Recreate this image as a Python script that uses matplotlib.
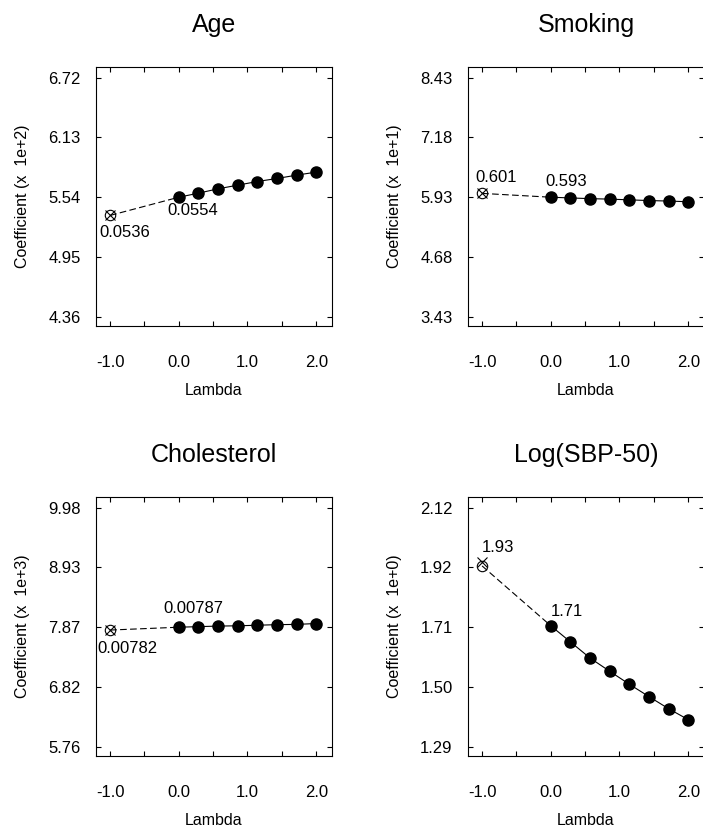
import matplotlib
matplotlib.use("Agg")
import matplotlib.pyplot as plt
from matplotlib.ticker import FixedLocator

plt.rcParams["font.family"] = ["Liberation Sans", "DejaVu Sans"]

# Box-Cox lambda grid for the fitted curves
lambdas = [0.0, 2 / 7, 4 / 7, 6 / 7, 8 / 7, 10 / 7, 12 / 7, 2.0]
lambda_ref = -1.0

titles = ["Age", "Smoking", "Cholesterol", "Log(SBP-50)"]
exponents = [2, 1, 3, 0]

# coefficients along the lambda grid
age_coef = [0.0554, 0.0558, 0.05623, 0.05659, 0.05695, 0.05725, 0.05758, 0.05788]
smoking_coef = [0.593, 0.5915, 0.590, 0.589, 0.5875, 0.586, 0.585, 0.5835]
chol_coef = [0.00787, 0.00788, 0.00789, 0.007895, 0.007905, 0.007915, 0.00792, 0.007935]
sbp_coef = [1.71, 1.654, 1.598, 1.552, 1.507, 1.464, 1.422, 1.384]

# estimates at lambda = -1 (open circle and cross)
circle_coef = [0.0536, 0.601, 0.00782, 1.918]
cross_coef = [0.0536, 0.601, 0.00782, 1.932]

ytick_labels = [
    ["4.36", "4.95", "5.54", "6.13", "6.72"],
    ["3.43", "4.68", "5.93", "7.18", "8.43"],
    ["5.76", "6.82", "7.87", "8.93", "9.98"],
    ["1.29", "1.50", "1.71", "1.92", "2.12"],
]

series = [age_coef, smoking_coef, chol_coef, sbp_coef]

# label offsets in points: (circle label, first point label)
label_offsets = [
    [(-8, -7, "top"), (-8, -4, "top")],
    [(-5, 6, "bottom"), (-4, 6, "bottom")],
    [(-9, -8, "top"), (-11, 8, "bottom")],
    [(0, 5, "bottom"), (0, 5, "bottom")],
]

W, H = 703, 832
fig = plt.figure(figsize=(W / 100, H / 100), dpi=100)

boxes = [(96, 67), (468, 67), (96, 497), (468, 497)]
bw, bh = 236, 259

for i, (left, top) in enumerate(boxes):
    ax = fig.add_axes([left / W, 1 - (top + bh) / H, bw / W, bh / H])
    scale = 10.0 ** exponents[i]
    ys = [v * scale for v in series[i]]
    yc = circle_coef[i] * scale
    yx = cross_coef[i] * scale

    ax.plot([lambda_ref, lambdas[0]], [yc, ys[0]], color="black", lw=0.8,
            dashes=(6, 3))
    ax.plot(lambdas, ys, color="black", lw=0.8, marker="o", ms=8,
            mfc="black", mec="black")
    ax.plot([lambda_ref], [yc], marker="o", ms=7.5, mfc="none", mec="black",
            mew=0.8, ls="none")
    ax.plot([lambda_ref], [yx], marker="x", ms=7.5, mec="black", mew=0.8,
            ls="none")

    (cx, cy, cva), (px, py, pva) = label_offsets[i]
    ax.annotate(f"{cross_coef[i]:.3g}", (lambda_ref, yx), xytext=(cx, cy),
                textcoords="offset points", ha="left", va=cva, fontsize=12)
    ax.annotate(f"{series[i][0]:.3g}", (lambdas[0], ys[0]), xytext=(px, py),
                textcoords="offset points", ha="left", va=pva, fontsize=12)

    labels = ytick_labels[i]
    t0, t4 = float(labels[0]), float(labels[-1])
    ticks = [t0 + k * (t4 - t0) / 4 for k in range(5)]
    span = t4 - t0
    ax.set_ylim(t0 - 0.039 * span, t4 + 0.045 * span)
    ax.set_yticks(ticks)
    ax.set_yticklabels(labels)

    ax.set_xlim(-1.205, 2.23)
    ax.xaxis.set_major_locator(FixedLocator([-1.0, 0.0, 1.0, 2.0]))
    ax.xaxis.set_minor_locator(FixedLocator([-0.5, 0.5, 1.5]))
    ax.set_xticklabels(["-1.0", "0.0", "1.0", "2.0"])

    ax.tick_params(which="both", direction="in", top=True, right=True,
                   length=3.5, width=0.8, labelsize=12)
    ax.tick_params(axis="x", pad=21)
    ax.tick_params(axis="y", pad=11)
    for s in ax.spines.values():
        s.set_linewidth(0.8)

    ax.set_xlabel("Lambda", fontsize=11.5, labelpad=9)
    ax.set_ylabel(f"Coefficient (x  1e+{exponents[i]})", fontsize=11.5,
                  labelpad=13)
    ax.set_title(titles[i], fontsize=18, pad=25)

fig.savefig("out.png", dpi=100)
